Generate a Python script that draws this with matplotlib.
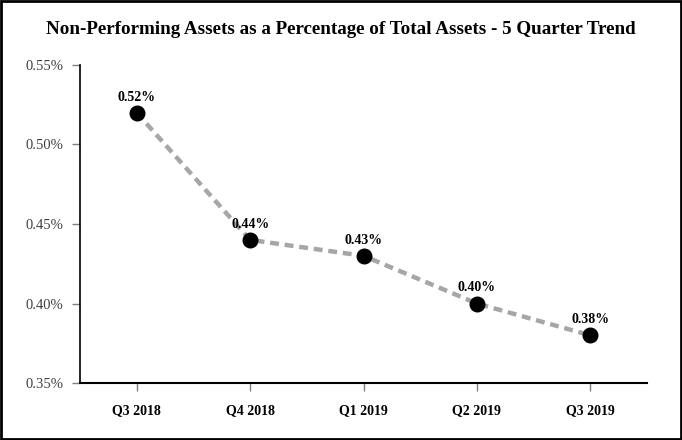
import matplotlib
matplotlib.use("Agg")
from matplotlib import pyplot as plt
from matplotlib.ticker import FuncFormatter
from matplotlib.patches import Rectangle

quarters = ["Q3 2018", "Q4 2018", "Q1 2019", "Q2 2019", "Q3 2019"]
npa_pct = [0.52, 0.44, 0.43, 0.40, 0.38]
y_ticks = [0.35, 0.40, 0.45, 0.50, 0.55]

plt.rcParams["font.family"] = ["Liberation Serif", "DejaVu Serif"]

fig = plt.figure(figsize=(6.82, 4.40), dpi=100)
ax = fig.add_axes([0.1173, 0.1295, 0.8314, 0.7228])

x = list(range(len(quarters)))
ax.plot(x, npa_pct, color="#a6a6a6", linestyle=(0, (2.0, 1.3)), linewidth=3.2,
        marker="o", markersize=10.5, markerfacecolor="black",
        markeredgecolor="black", zorder=3)

for xi, v in zip(x, npa_pct):
    ax.annotate(f"{v:.2f}%", (xi, v), xytext=(0, 6.5), textcoords="offset points",
                ha="center", va="bottom", fontsize=10, fontweight="bold")

ax.set_xlim(-0.5, 4.5)
ax.set_ylim(0.35, 0.55)
ax.set_xticks(x)
ax.set_xticklabels(quarters, fontsize=10, fontweight="bold")
ax.set_yticks(y_ticks)
ax.yaxis.set_major_formatter(FuncFormatter(lambda v, p: f"{v:.2f}%"))
ax.tick_params(axis="y", labelsize=10.5, length=6, width=1,
               color="#808080", labelcolor="#404040", pad=6)
ax.tick_params(axis="x", length=6, width=1, color="#808080", pad=9)

for s in ("top", "right"):
    ax.spines[s].set_visible(False)
ax.spines["left"].set_linewidth(1.2)
ax.spines["bottom"].set_linewidth(1.5)

fig.text(0.5, 0.932, "Non-Performing Assets as a Percentage of Total Assets - 5 Quarter Trend",
         ha="center", va="center", fontsize=13.7, fontweight="bold")

fig.patches.append(Rectangle((0.002, 0.003), 0.996, 0.994, transform=fig.transFigure,
                             fill=False, edgecolor="black", linewidth=2))

fig.savefig("out.png", dpi=100)
